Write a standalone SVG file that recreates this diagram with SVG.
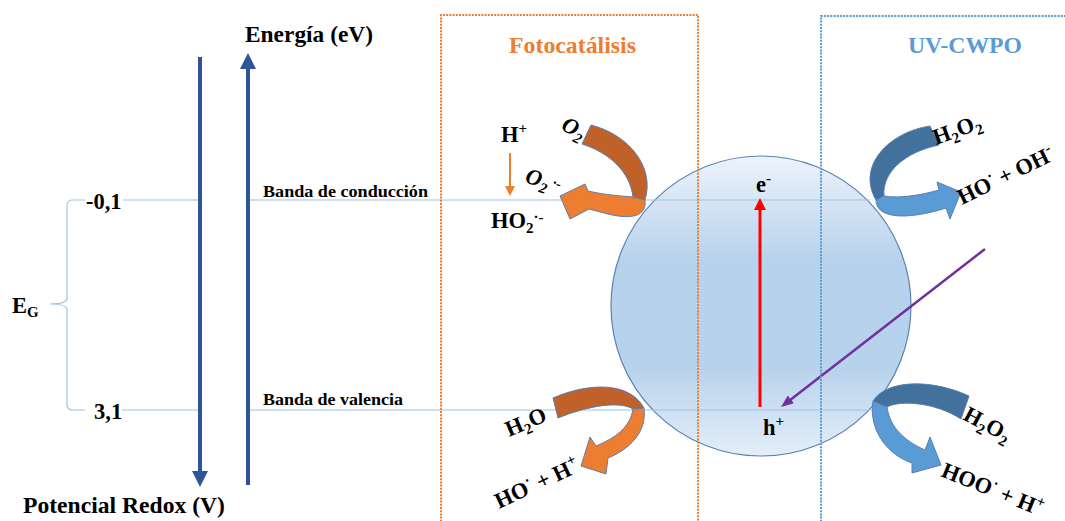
<svg xmlns="http://www.w3.org/2000/svg" width="1065" height="521" viewBox="0 0 1065 521">
<defs>
<style>
text{font-family:"Liberation Serif","Times New Roman",serif;font-weight:bold;fill:#000}
.band{stroke:#9DC3E6;stroke-width:1.2;fill:none}
.axis{stroke:#2F5597;stroke-width:4;fill:none}
.lbl{font-size:22.5px}
.sm{font-size:15px}
.it{font-style:italic}
.dkO{fill:#C0612A;stroke:#5A7FAE;stroke-width:1}
.ltO{fill:#ED7D31;stroke:#5A7FAE;stroke-width:1}
.dkB{fill:#41719C;stroke:#5A7FAE;stroke-width:1}
.ltB{fill:#5B9BD5;stroke:#5A7FAE;stroke-width:1}
</style>
<marker id="axHead" markerWidth="4" markerHeight="4" refX="2" refY="2" orient="auto" markerUnits="strokeWidth">
<path d="M0,0 L4,2 L0,4 Z" fill="#2F5597"/>
</marker>
<marker id="redHead" markerWidth="4" markerHeight="4" refX="2" refY="2" orient="auto" markerUnits="strokeWidth">
<path d="M0,0 L4,2 L0,4 Z" fill="#FF0000"/>
</marker>
<marker id="purHead" markerWidth="5" markerHeight="4" refX="3" refY="2" orient="auto" markerUnits="strokeWidth">
<path d="M0,0 L5,2 L0,4 Z" fill="#7030A0"/>
</marker>
<marker id="orHead" markerWidth="5" markerHeight="5" refX="3" refY="2.5" orient="auto" markerUnits="strokeWidth">
<path d="M0,0 L5,2.5 L0,5 Z" fill="#ED7D31"/>
</marker>
<linearGradient id="sph" x1="0" y1="0" x2="0" y2="1">
<stop offset="0" stop-color="#EDF3FB"/>
<stop offset="0.35" stop-color="#B7D2EC"/>
<stop offset="0.7" stop-color="#B7D2EC"/>
<stop offset="1" stop-color="#E4EEF8"/>
</linearGradient>
</defs>
<rect width="1065" height="521" fill="#FFFFFF"/>

<g id="sphere">
<circle cx="761" cy="306" r="150" fill="url(#sph)" stroke="#5A82AE" stroke-width="1.2"/>
</g>

<g id="connectors">
<line class="axis" x1="200" y1="57" x2="200" y2="479" marker-end="url(#axHead)"/>
<line class="axis" x1="248" y1="485" x2="248" y2="61" marker-end="url(#axHead)"/>
<path class="band" d="M250,200 H870 M123,200 H198 M250,410 H878 M122,410 H198 M85,200 H72 Q67,200 67,206 V298 Q67,304 50,304 Q67,304 67,310 V404 Q67,410 73,410 H85"/>
<line x1="760" y1="407" x2="760" y2="204" stroke="#FF0000" stroke-width="3" marker-end="url(#redHead)"/>
<line x1="985" y1="249" x2="785" y2="404" stroke="#7030A0" stroke-width="2.5" marker-end="url(#purHead)"/>
<line x1="510" y1="153" x2="510" y2="192" stroke="#ED7D31" stroke-width="2" marker-end="url(#orHead)"/>
</g>

<g id="box-fotocatalisis">
<path d="M441,525 V15 H698 V525" fill="none" stroke="#ED7D31" stroke-width="2" stroke-dasharray="2 1.2"/>
<text x="509" y="53" font-size="24" style="fill:#ED7D31" textLength="127" lengthAdjust="spacingAndGlyphs">Fotocatálisis</text>
</g>

<g id="box-uvcwpo">
<path d="M821,525 V16 H1070" fill="none" stroke="#5B9BD5" stroke-width="2" stroke-dasharray="2 1.2"/>
<text x="908" y="53" font-size="23" style="fill:#5B9BD5" textLength="114" lengthAdjust="spacingAndGlyphs">UV-CWPO</text>
</g>

<g id="axis-labels">
<text x="245" y="42" font-size="23" textLength="128" lengthAdjust="spacingAndGlyphs">Energía (eV)</text>
<text x="23" y="513" font-size="23" textLength="202" lengthAdjust="spacingAndGlyphs">Potencial Redox (V)</text>
<text x="86" y="209" class="lbl">-0,1</text>
<text x="94" y="419" class="lbl">3,1</text>
<text x="12" y="313" class="lbl">E<tspan class="sm" dy="4">G</tspan></text>
<text x="263" y="197" font-size="16.5" textLength="165" lengthAdjust="spacingAndGlyphs">Banda de conducción</text>
<text x="263" y="405" font-size="16.5" textLength="140" lengthAdjust="spacingAndGlyphs">Banda de valencia</text>
</g>

<g id="charges">
<text x="756" y="192" class="lbl">e<tspan class="sm" dy="-9">-</tspan></text>
<text x="763" y="435" class="lbl">h<tspan class="sm" dy="-9">+</tspan></text>
</g>

<g id="arrow-o2">
<path class="dkO" d="M591,125 C630,135 655,168 645,200 L633,197 C630,172 610,153 582,144 Z"/>
<path class="ltO" d="M645,200 C647,216 632,220 608,214 L589,209 L570,219 L560,196 L585,184 L588,191 C605,195 622,196 633,197 Z"/>
<text class="lbl it" transform="translate(560,129) rotate(28)">O<tspan class="sm" dy="5">2</tspan></text>
<text class="lbl it" transform="translate(524,182) rotate(18)">O<tspan class="sm" dy="5">2</tspan><tspan class="sm" dy="-9"> ·-</tspan></text>
<text x="501" y="142" class="lbl">H<tspan class="sm" dy="-9">+</tspan></text>
<text x="491" y="228" class="lbl">HO<tspan class="sm" dy="5">2</tspan><tspan class="sm" dy="-11">·-</tspan></text>
</g>

<g id="arrow-h2o">
<path class="dkO" d="M553,398 C590,382 630,382 644,408 L633,409 C620,401 590,405 558,418 Z"/>
<path class="ltO" d="M644,408 C647,432 630,449 608,458 L606,474 L581,466 L590,437 L596,446 C615,438 630,428 633,409 Z"/>
<text class="lbl" transform="translate(509,437) rotate(-23)">H<tspan class="sm" dy="5">2</tspan><tspan dy="-5">O</tspan></text>
<text class="lbl" transform="translate(499,509) rotate(-25)">HO<tspan class="sm" dy="-9">·</tspan><tspan dy="9"> + H</tspan><tspan class="sm" dy="-9">+</tspan></text>
</g>

<g id="arrow-h2o2-top">
<path class="dkB" d="M930,126 C890,132 856,165 876,200 L884,196 C882,172 905,152 939,145 Z"/>
<path class="ltB" d="M876,200 C876,218 905,221 946,208 L950,219 L961,192 L937,182 L939,190 C915,197 895,198 884,196 Z"/>
<text class="lbl" transform="translate(936,145) rotate(-20)">H<tspan class="sm" dy="5">2</tspan><tspan dy="-5">O</tspan><tspan class="sm" dy="5">2</tspan></text>
<text class="lbl" transform="translate(962,205) rotate(-26)">HO<tspan class="sm" dy="-9">·</tspan><tspan dy="9"> + OH</tspan><tspan class="sm" dy="-9">-</tspan></text>
</g>

<g id="arrow-h2o2-bottom">
<path class="dkB" d="M969,396 C935,380 888,378 873,401 L887,407 C900,400 935,402 961,419 Z"/>
<path class="ltB" d="M873,401 C868,432 890,456 912,463 L912,473 L941,465 L930,437 L925,450 C905,441 890,428 887,407 Z"/>
<text class="lbl" transform="translate(962,419) rotate(28)">H<tspan class="sm" dy="5">2</tspan><tspan dy="-5">O</tspan><tspan class="sm" dy="5">2</tspan></text>
<text class="lbl" transform="translate(940,476) rotate(22)">HOO<tspan class="sm" dy="-9">·</tspan><tspan dy="9"> + H</tspan><tspan class="sm" dy="-9">+</tspan></text>
</g>
</svg>
